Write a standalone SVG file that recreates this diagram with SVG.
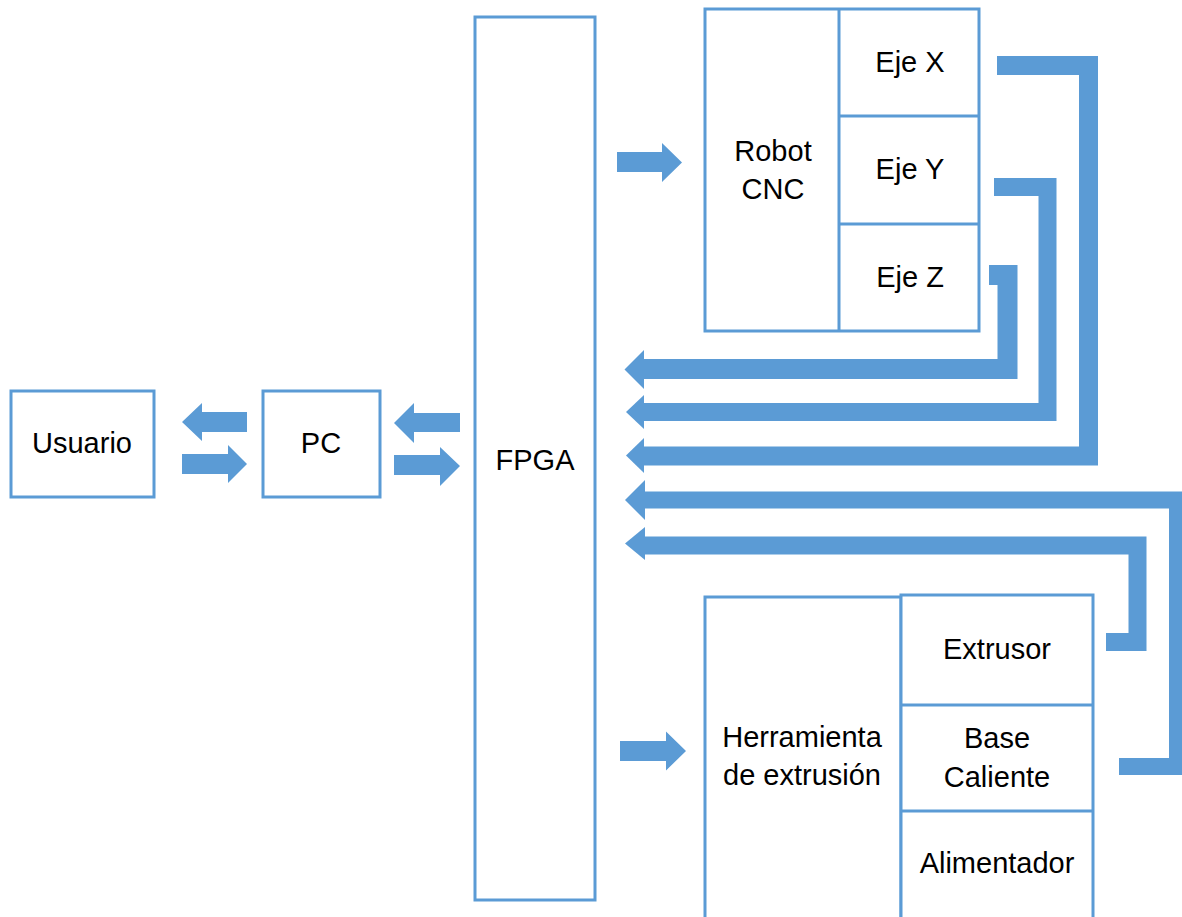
<svg xmlns="http://www.w3.org/2000/svg" width="1182" height="917" viewBox="0 0 1182 917">
  <style>
    .box { fill: #ffffff; stroke: #5B9BD5; stroke-width: 3; }
    .div { stroke: #5B9BD5; stroke-width: 3; fill: none; }
    .bus { fill: none; stroke: #5B9BD5; stroke-width: 19; stroke-linejoin: miter; stroke-linecap: butt; }
    .arr { fill: #5B9BD5; stroke: none; }
    .lbl { font-family: "Liberation Sans", Arial, sans-serif; font-size: 29px; fill: #000000; text-anchor: middle; }
  </style>
  <rect width="1182" height="917" fill="#ffffff"/>

  <g id="usuario">
    <rect class="box" x="11" y="391" width="143" height="106"/>
    <text class="lbl" x="82" y="453">Usuario</text>
  </g>
  <g id="pc">
    <rect class="box" x="263" y="391" width="117" height="106"/>
    <text class="lbl" x="321" y="453">PC</text>
  </g>
  <g id="fpga">
    <rect class="box" x="475" y="17" width="120" height="883"/>
    <text class="lbl" x="535" y="470">FPGA</text>
  </g>
  <g id="robot-cnc">
    <rect class="box" x="705" y="9" width="274" height="322"/>
    <line class="div" x1="839" y1="9" x2="839" y2="331"/>
    <line class="div" x1="839" y1="116" x2="979" y2="116"/>
    <line class="div" x1="839" y1="224" x2="979" y2="224"/>
    <text class="lbl" x="773" y="161">Robot</text>
    <text class="lbl" x="773" y="199">CNC</text>
  </g>
  <g id="eje-x"><text class="lbl" x="910" y="72">Eje X</text></g>
  <g id="eje-y"><text class="lbl" x="910" y="179">Eje Y</text></g>
  <g id="eje-z"><text class="lbl" x="910" y="287">Eje Z</text></g>

  <g id="herramienta">
    <rect class="box" x="705" y="597" width="196" height="330"/>
    <text class="lbl" x="802" y="747">Herramienta</text>
    <text class="lbl" x="802" y="785">de extrusión</text>
  </g>
  <g id="sub-herramienta">
    <rect class="box" x="901" y="595" width="192" height="332"/>
    <line class="div" x1="901" y1="705" x2="1093" y2="705"/>
    <line class="div" x1="901" y1="811" x2="1093" y2="811"/>
  </g>
  <g id="extrusor"><text class="lbl" x="997" y="659">Extrusor</text></g>
  <g id="base-caliente">
    <text class="lbl" x="997" y="748">Base</text>
    <text class="lbl" x="997" y="787">Caliente</text>
  </g>
  <g id="alimentador"><text class="lbl" x="997" y="873">Alimentador</text></g>

  <g id="connectors">
    <!-- Usuario <-> PC -->
    <polygon class="arr" points="247,412 202,412 202,403 182,422 202,441 202,432 247,432"/>
    <polygon class="arr" points="182,454 228,454 228,445 247,464 228,483 228,474 182,474"/>
    <!-- PC <-> FPGA -->
    <polygon class="arr" points="460,413 414,413 414,403 394,423 414,443 414,432 460,432"/>
    <polygon class="arr" points="394,455 440,455 440,447 460,466 440,486 440,475 394,475"/>
    <!-- FPGA -> Robot CNC -->
    <polygon class="arr" points="617,152 662,152 662,143 682,162.5 662,182 662,172 617,172"/>
    <!-- FPGA -> Herramienta -->
    <polygon class="arr" points="620,741 666,741 666,731.5 686,751 666,770.5 666,761 620,761"/>

    <!-- Eje Z feedback -->
    <path class="bus" d="M989,275 H1007.5 V369 H643" style="stroke-width:20"/>
    <polygon class="arr" points="644,350 624.5,369.5 644,389"/>
    <!-- Eje Y feedback -->
    <path class="bus" d="M994,187 H1047.5 V412 H643" style="stroke-width:18"/>
    <polygon class="arr" points="644,395 626,412 644,429"/>
    <!-- Eje X feedback -->
    <path class="bus" d="M997,65.5 H1088.5 V456 H643"/>
    <polygon class="arr" points="644,438 626,455.5 644,473"/>
    <!-- Base Caliente feedback -->
    <path class="bus" d="M1119,766.5 H1177.5 V500 H643" style="stroke-width:17"/>
    <polygon class="arr" points="645,480 625,500 645,520"/>
    <!-- Extrusor feedback -->
    <path class="bus" d="M1106,642 H1137.5 V545.5 H643" style="stroke-width:18"/>
    <polygon class="arr" points="645,527 625,543.5 645,560"/>
  </g>
</svg>
